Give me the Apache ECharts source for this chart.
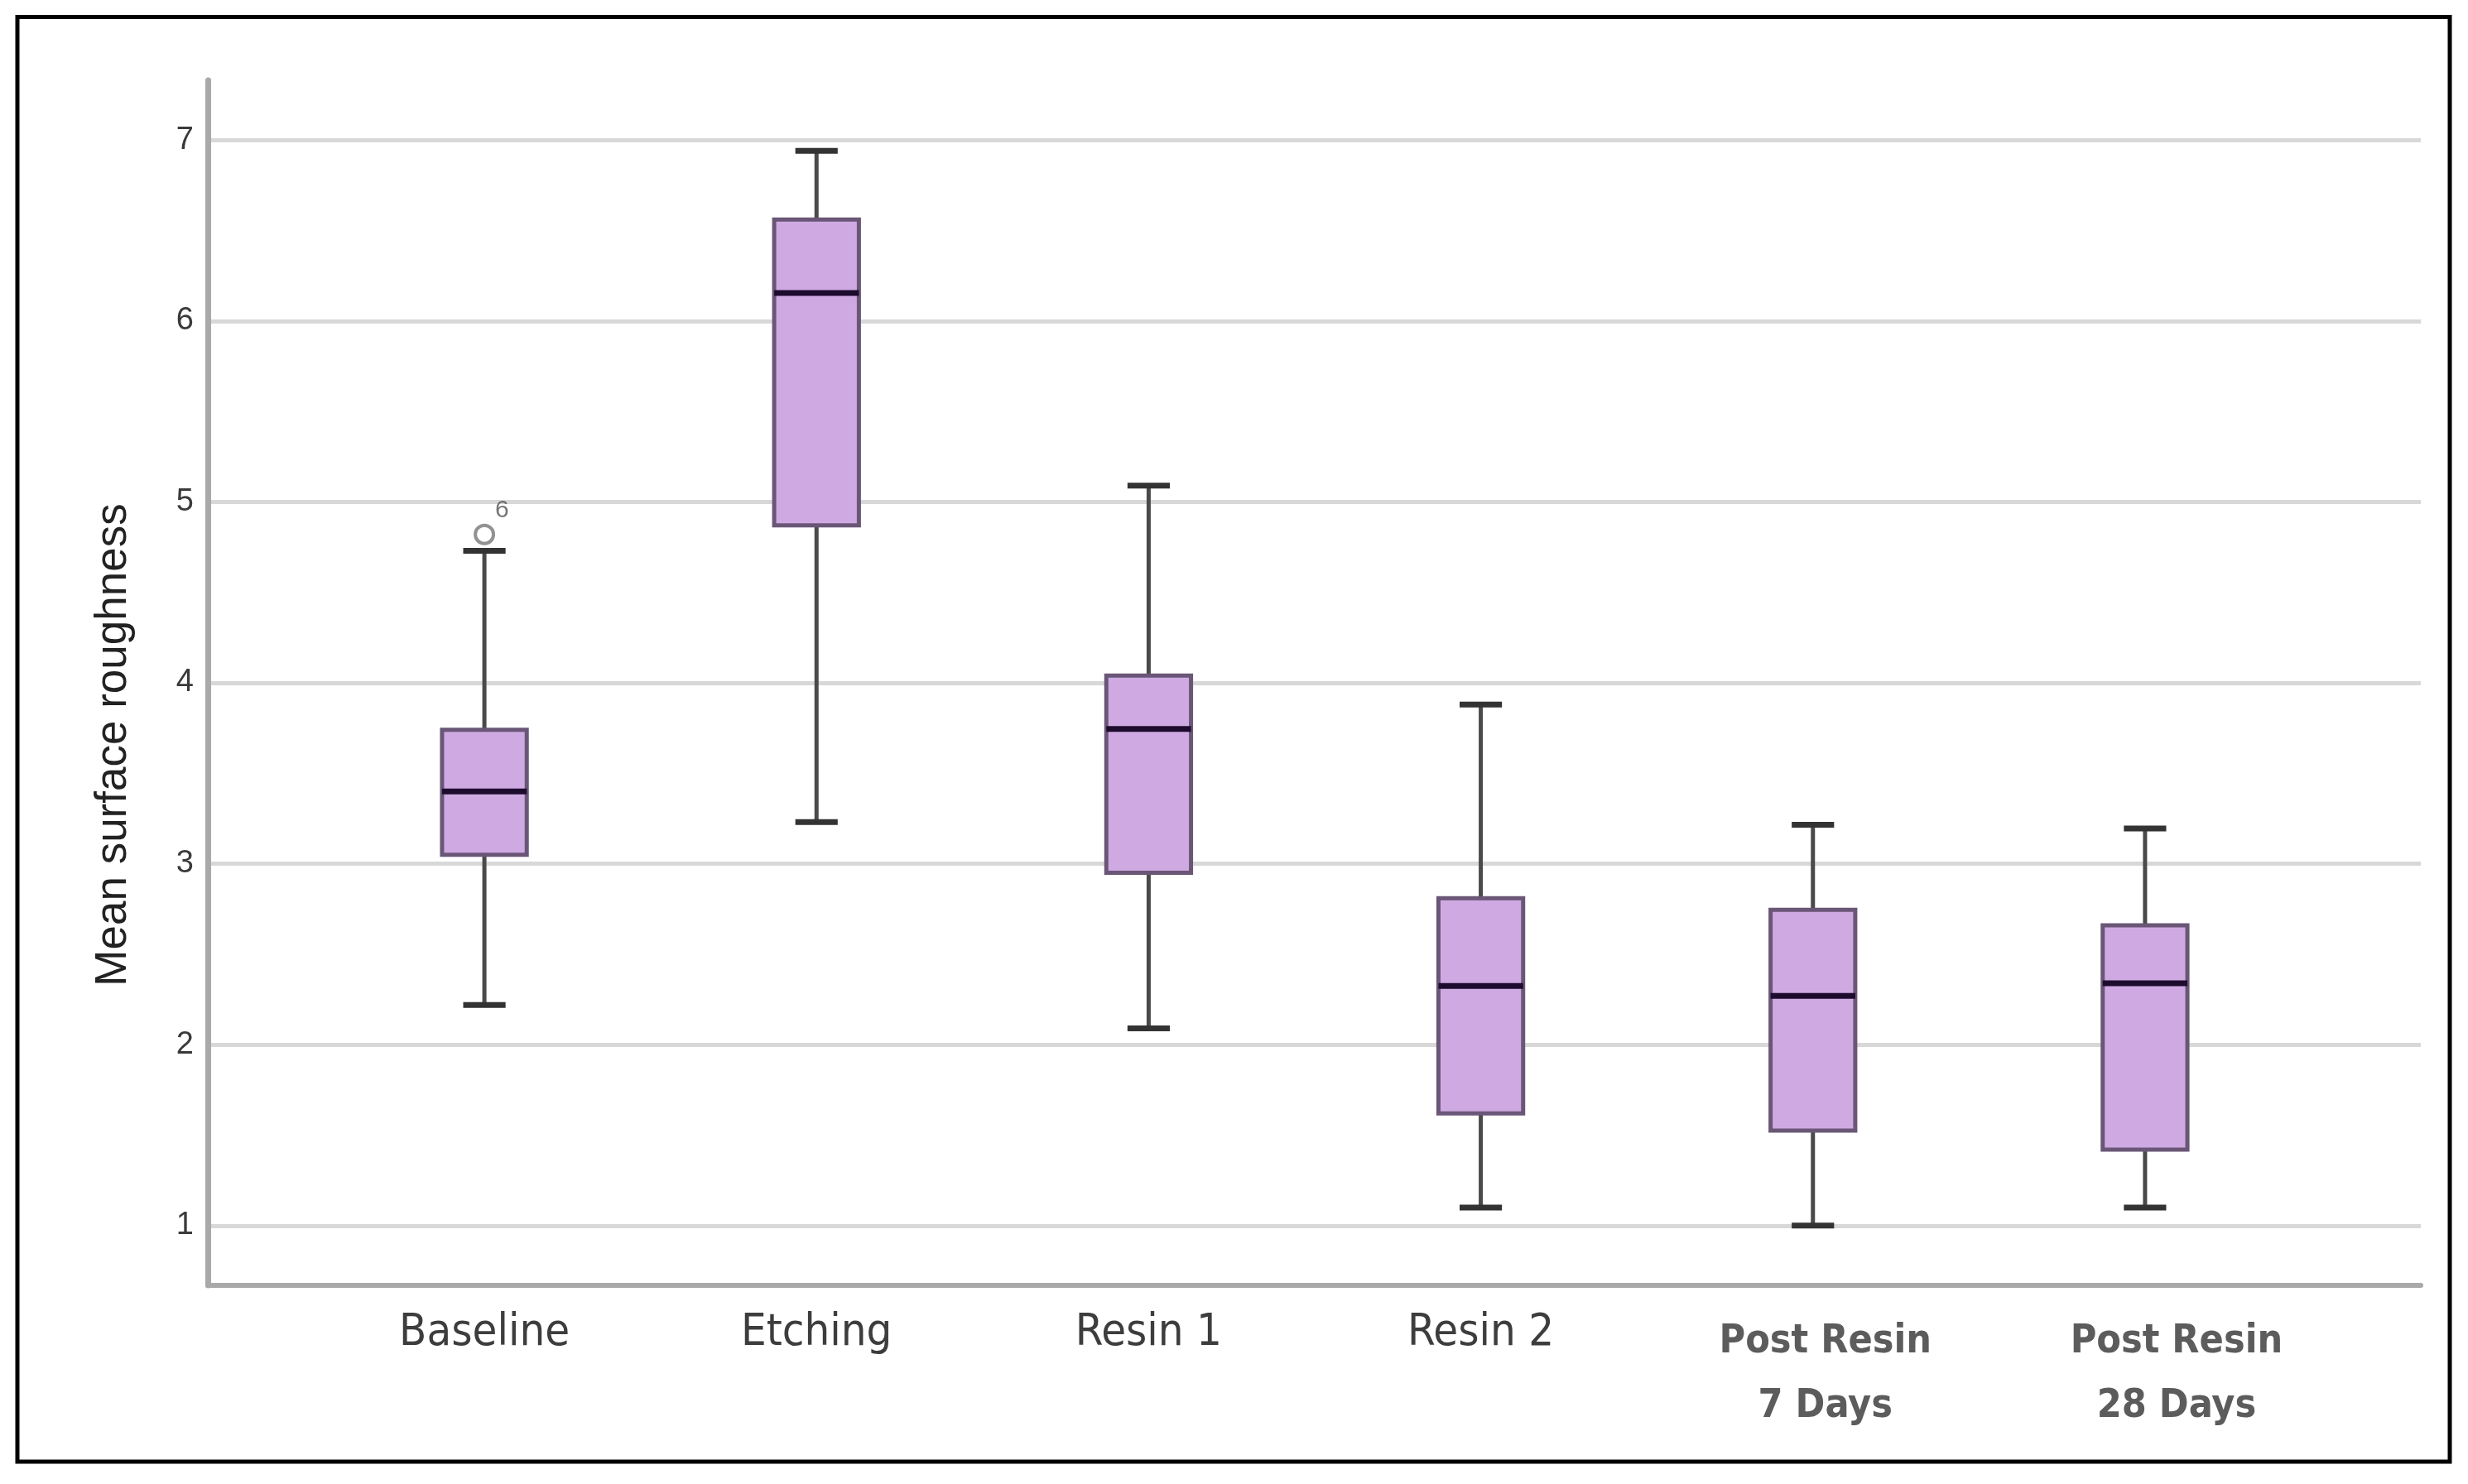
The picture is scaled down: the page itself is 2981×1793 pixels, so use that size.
<!DOCTYPE html>
<html>
<head>
<meta charset="utf-8">
<script src="https://cdn.jsdelivr.net/npm/echarts@6/dist/echarts.min.js"></script>
<style>
html,body{margin:0;padding:0;background:#fff;}
#chart{width:2981px;height:1793px;}
</style>
</head>
<body>
<div id="chart"></div>
<script>
// ---- data ----
const categories = ['Baseline', 'Etching', 'Resin 1', 'Resin 2', 'Post Resin\n7 Days', 'Post Resin\n28 Days'];
const whiskerLow  = [2.22, 3.23, 2.09, 1.10, 1.00, 1.10];
const quartile1   = [3.05, 4.87, 2.95, 1.62, 1.525, 1.42];
const medians     = [3.40, 6.155, 3.745, 2.325, 2.27, 2.34];
const quartile3   = [3.74, 6.56, 4.04, 2.81, 2.745, 2.66];
const whiskerHigh = [4.73, 6.94, 5.09, 3.88, 3.215, 3.195];
const outlierPoints = [[0, 4.82]];
const outlierLabels = ['6'];
const yTickValues = [1, 2, 3, 4, 5, 6, 7];
const yTitle = 'Mean surface roughness';

const Y_MIN = 0.67, Y_MAX = 7.33;

const boxData = categories.map((c, i) => [i, whiskerLow[i], quartile1[i], medians[i], quartile3[i], whiskerHigh[i]]);

function richLabel(value, index) {
  if (value.indexOf('\n') >= 0) {
    const parts = value.split('\n');
    const tag = index === 4 ? 'p7' : 'p28';
    return '{' + tag + '|' + parts[0] + '}\n{' + tag + '|' + parts[1] + '}';
  }
  return '{a|' + value + '}';
}

const narrow = '"Liberation Sans Narrow", "DejaVu Sans Condensed", "Liberation Sans", sans-serif';
const postStyle = { fontFamily: narrow, fontSize: 48, fontWeight: 'bold', color: '#5c5c5c', lineHeight: 78 };

const chart = echarts.init(document.getElementById('chart'), null, { renderer: 'canvas' });

const option = {
  backgroundColor: '#ffffff',
  animation: false,
  graphic: [{
    type: 'rect',
    shape: { x: 21, y: 20.5, width: 2938, height: 1745.5 },
    style: { fill: 'none', stroke: '#000000', lineWidth: 5 },
    silent: true
  }],
  grid: [
    { left: 251, right: 57, top: 97, bottom: 240, outerBoundsMode: 'none', containLabel: false },
    { left: 384.5, right: 189.5, top: 97, bottom: 240, outerBoundsMode: 'none', containLabel: false }
  ],
  xAxis: [
    {
      gridIndex: 0, type: 'value', min: 0, max: 1,
      axisLine: { show: true, onZero: false, lineStyle: { color: '#a9a9a9', width: 6 } },
      axisTick: { show: false }, axisLabel: { show: false }, splitLine: { show: false }
    },
    {
      gridIndex: 1, type: 'category', data: categories,
      axisLine: { show: false }, axisTick: { show: false }, splitLine: { show: false },
      axisLabel: {
        show: true, interval: 0, margin: 30,
        formatter: richLabel,
        rich: {
          a: { fontFamily: narrow, fontSize: 54, color: '#3d3d3d', lineHeight: 56 },
          p7: Object.assign({}, postStyle, { padding: [0, 0, 0, 30] }),
          p28: Object.assign({}, postStyle, { padding: [0, 0, 0, 76] })
        }
      }
    }
  ],
  yAxis: [
    {
      gridIndex: 0, type: 'value', min: Y_MIN, max: Y_MAX,
      name: yTitle, nameLocation: 'middle', nameRotate: 90, nameGap: 87,
      nameTextStyle: { fontFamily: '"Liberation Sans", Arial, sans-serif', fontSize: 53, color: '#222222', padding: [0, 150, 0, 0] },
      axisLine: { show: true, lineStyle: { color: '#a9a9a9', width: 7 } },
      axisTick: { show: false, customValues: yTickValues },
      axisLabel: { show: true, customValues: yTickValues, margin: 17, fontFamily: '"Liberation Sans", Arial, sans-serif', fontSize: 38, color: '#3a3a3a' },
      splitLine: { show: true, lineStyle: { color: '#d8d8d8', width: 5 } }
    },
    {
      gridIndex: 1, type: 'value', min: Y_MIN, max: Y_MAX, show: false,
      splitLine: { show: false }
    }
  ],
  series: [
    {
      type: 'custom',
      xAxisIndex: 1, yAxisIndex: 1,
      data: boxData,
      encode: { x: 0, y: [1, 2, 3, 4, 5] },
      renderItem: function (params, api) {
        const x = api.value(0);
        const pLow = api.coord([x, api.value(1)]);
        const pQ1 = api.coord([x, api.value(2)]);
        const pMed = api.coord([x, api.value(3)]);
        const pQ3 = api.coord([x, api.value(4)]);
        const pHigh = api.coord([x, api.value(5)]);
        const band = api.size([1, 0])[0];
        const boxW = band * 0.255;
        const capW = boxW * 0.5;
        const cx = pMed[0];
        const whiskerStyle = { stroke: '#4a4a4a', lineWidth: 5 };
        const capStyle = { stroke: '#333333', lineWidth: 7 };
        return {
          type: 'group',
          children: [
            { type: 'line', shape: { x1: cx, y1: pQ3[1], x2: cx, y2: pHigh[1] }, style: whiskerStyle },
            { type: 'line', shape: { x1: cx, y1: pQ1[1], x2: cx, y2: pLow[1] }, style: whiskerStyle },
            { type: 'line', shape: { x1: cx - capW / 2, y1: pHigh[1], x2: cx + capW / 2, y2: pHigh[1] }, style: capStyle },
            { type: 'line', shape: { x1: cx - capW / 2, y1: pLow[1], x2: cx + capW / 2, y2: pLow[1] }, style: capStyle },
            { type: 'rect', shape: { x: cx - boxW / 2, y: pQ3[1], width: boxW, height: pQ1[1] - pQ3[1] },
              style: { fill: '#cfaae2', stroke: '#6a5676', lineWidth: 5 } },
            { type: 'line', shape: { x1: cx - boxW / 2, y1: pMed[1], x2: cx + boxW / 2, y2: pMed[1] },
              style: { stroke: '#1e0c2e', lineWidth: 7 } }
          ]
        };
      }
    },
    {
      type: 'scatter',
      xAxisIndex: 1, yAxisIndex: 1,
      data: outlierPoints,
      symbol: 'circle', symbolSize: 22,
      itemStyle: { color: '#ffffff', borderColor: '#777777', borderWidth: 4 },
      label: {
        show: true, position: [26, -31],
        formatter: function (p) { return outlierLabels[p.dataIndex]; },
        fontFamily: '"Liberation Sans", Arial, sans-serif', fontSize: 30, color: '#555555'
      },
      z: 5
    }
  ]
};
chart.setOption(option);
</script>
</body>
</html>
